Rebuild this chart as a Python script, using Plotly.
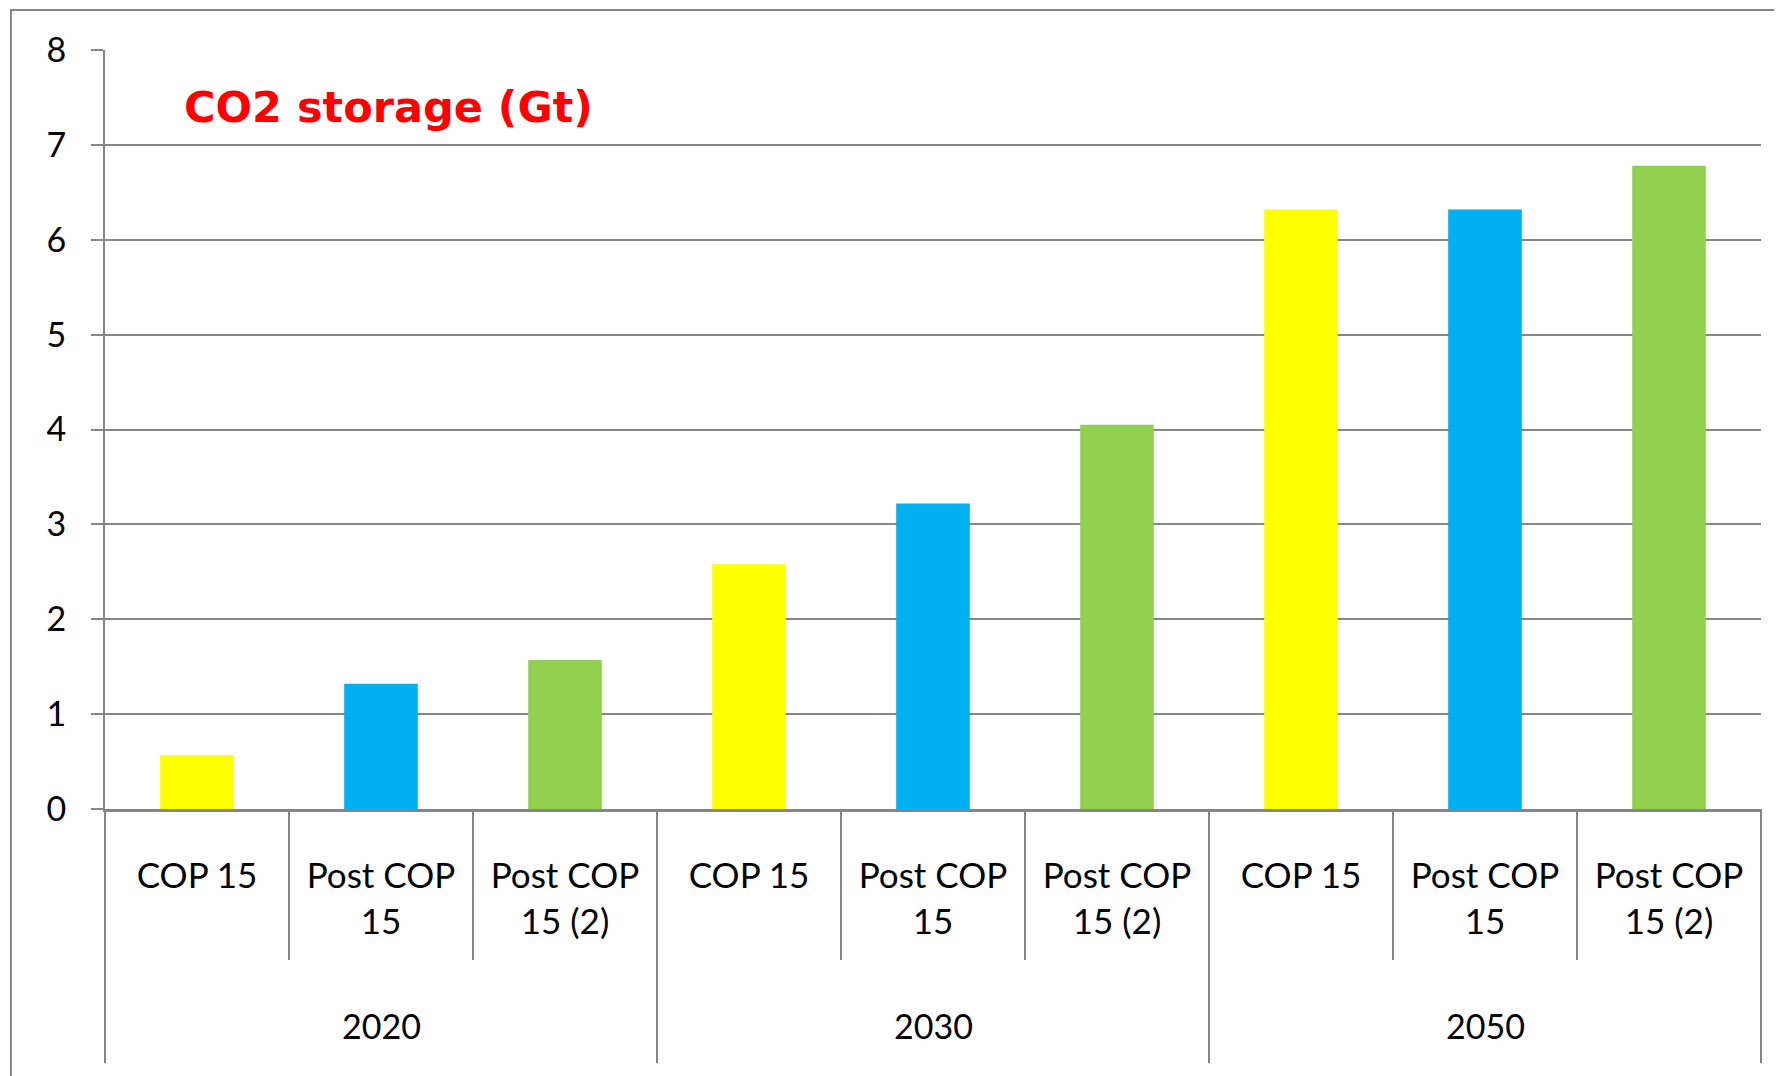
import plotly.graph_objects as go

# ---- data ----
years = ["2020", "2030", "2050"]
scenarios = ["COP 15", "Post COP<br>15", "Post COP<br>15 (2)"]
values_2020 = [0.57, 1.32, 1.57]
values_2030 = [2.58, 3.22, 4.05]
values_2050 = [6.32, 6.32, 6.78]
bar_colors = ["#FFFF00", "#00B0F0", "#92D050"]
y_ticks = [0, 1, 2, 3, 4, 5, 6, 7, 8]
title_text = "CO2 storage (Gt)"

all_values = [values_2020, values_2030, values_2050]
n_groups = len(years)
n_sub = len(scenarios)
n_cat = n_groups * n_sub

x_pos = list(range(n_cat))
y_vals = [v for grp in all_values for v in grp]
colors = bar_colors * n_groups
tick_text = scenarios * n_groups

GRID = "#868686"
FONT = "Lato, 'DejaVu Sans', sans-serif"

fig = go.Figure()
fig.add_trace(go.Bar(
    x=x_pos, y=y_vals, marker=dict(color=colors, line=dict(width=0)),
    width=0.4, showlegend=False, hoverinfo="y"
))

shapes = []
# divider lines below the axis
for k in range(n_cat + 1):
    xp = k / n_cat
    outer = (k % n_sub == 0)
    shapes.append(dict(type="line", xref="paper", yref="paper",
                       x0=xp, x1=xp, y0=0, y1=(-0.335 if outer else -0.199),
                       line=dict(color=GRID, width=2)))
# outer chart border
shapes.append(dict(type="rect", xref="paper", yref="paper",
                   x0=-0.0568, x1=1.06, y0=-0.6, y1=1.0527,
                   line=dict(color=GRID, width=2), fillcolor="rgba(0,0,0,0)", layer="below"))

annotations = []
for g, yr in enumerate(years):
    annotations.append(dict(
        x=(g * n_sub + (n_sub - 1) / 2 + 0.5) / n_cat, xref="paper",
        y=-0.285, yref="paper", text=yr, showarrow=False,
        xanchor="center", yanchor="middle",
        font=dict(family=FONT, size=34, color="black")))

fig.update_layout(
    width=1782, height=1076,
    margin=dict(l=97, r=29, t=42, b=275),
    paper_bgcolor="white", plot_bgcolor="white",
    bargap=0.6,
    title=dict(text=title_text, x=176 / 1782, xanchor="left", xref="container",
               y=1 - 99 / 1076, yanchor="middle", yref="container",
               font=dict(family="'DejaVu Sans', sans-serif", size=43, color="#FF0000", weight="bold")),
    shapes=shapes,
    annotations=annotations,
    xaxis=dict(
        range=[-0.5, n_cat - 0.5], tickmode="array", tickvals=x_pos, ticktext=tick_text,
        showgrid=False, zeroline=False, showline=True, linecolor=GRID, linewidth=3,
        ticks="", ticklabelstandoff=34,
        tickfont=dict(family=FONT, size=35, color="black"),
    ),
    yaxis=dict(
        range=[0, 8], tickmode="array", tickvals=y_ticks,
        showgrid=True, gridcolor=GRID, gridwidth=2,
        zeroline=False, showline=True, linecolor=GRID, linewidth=2,
        ticks="outside", ticklen=12, tickcolor=GRID, tickwidth=2,
        ticklabelstandoff=18,
        tickfont=dict(family=FONT, size=34, color="black"),
    ),
)

fig.write_html("out.html")
